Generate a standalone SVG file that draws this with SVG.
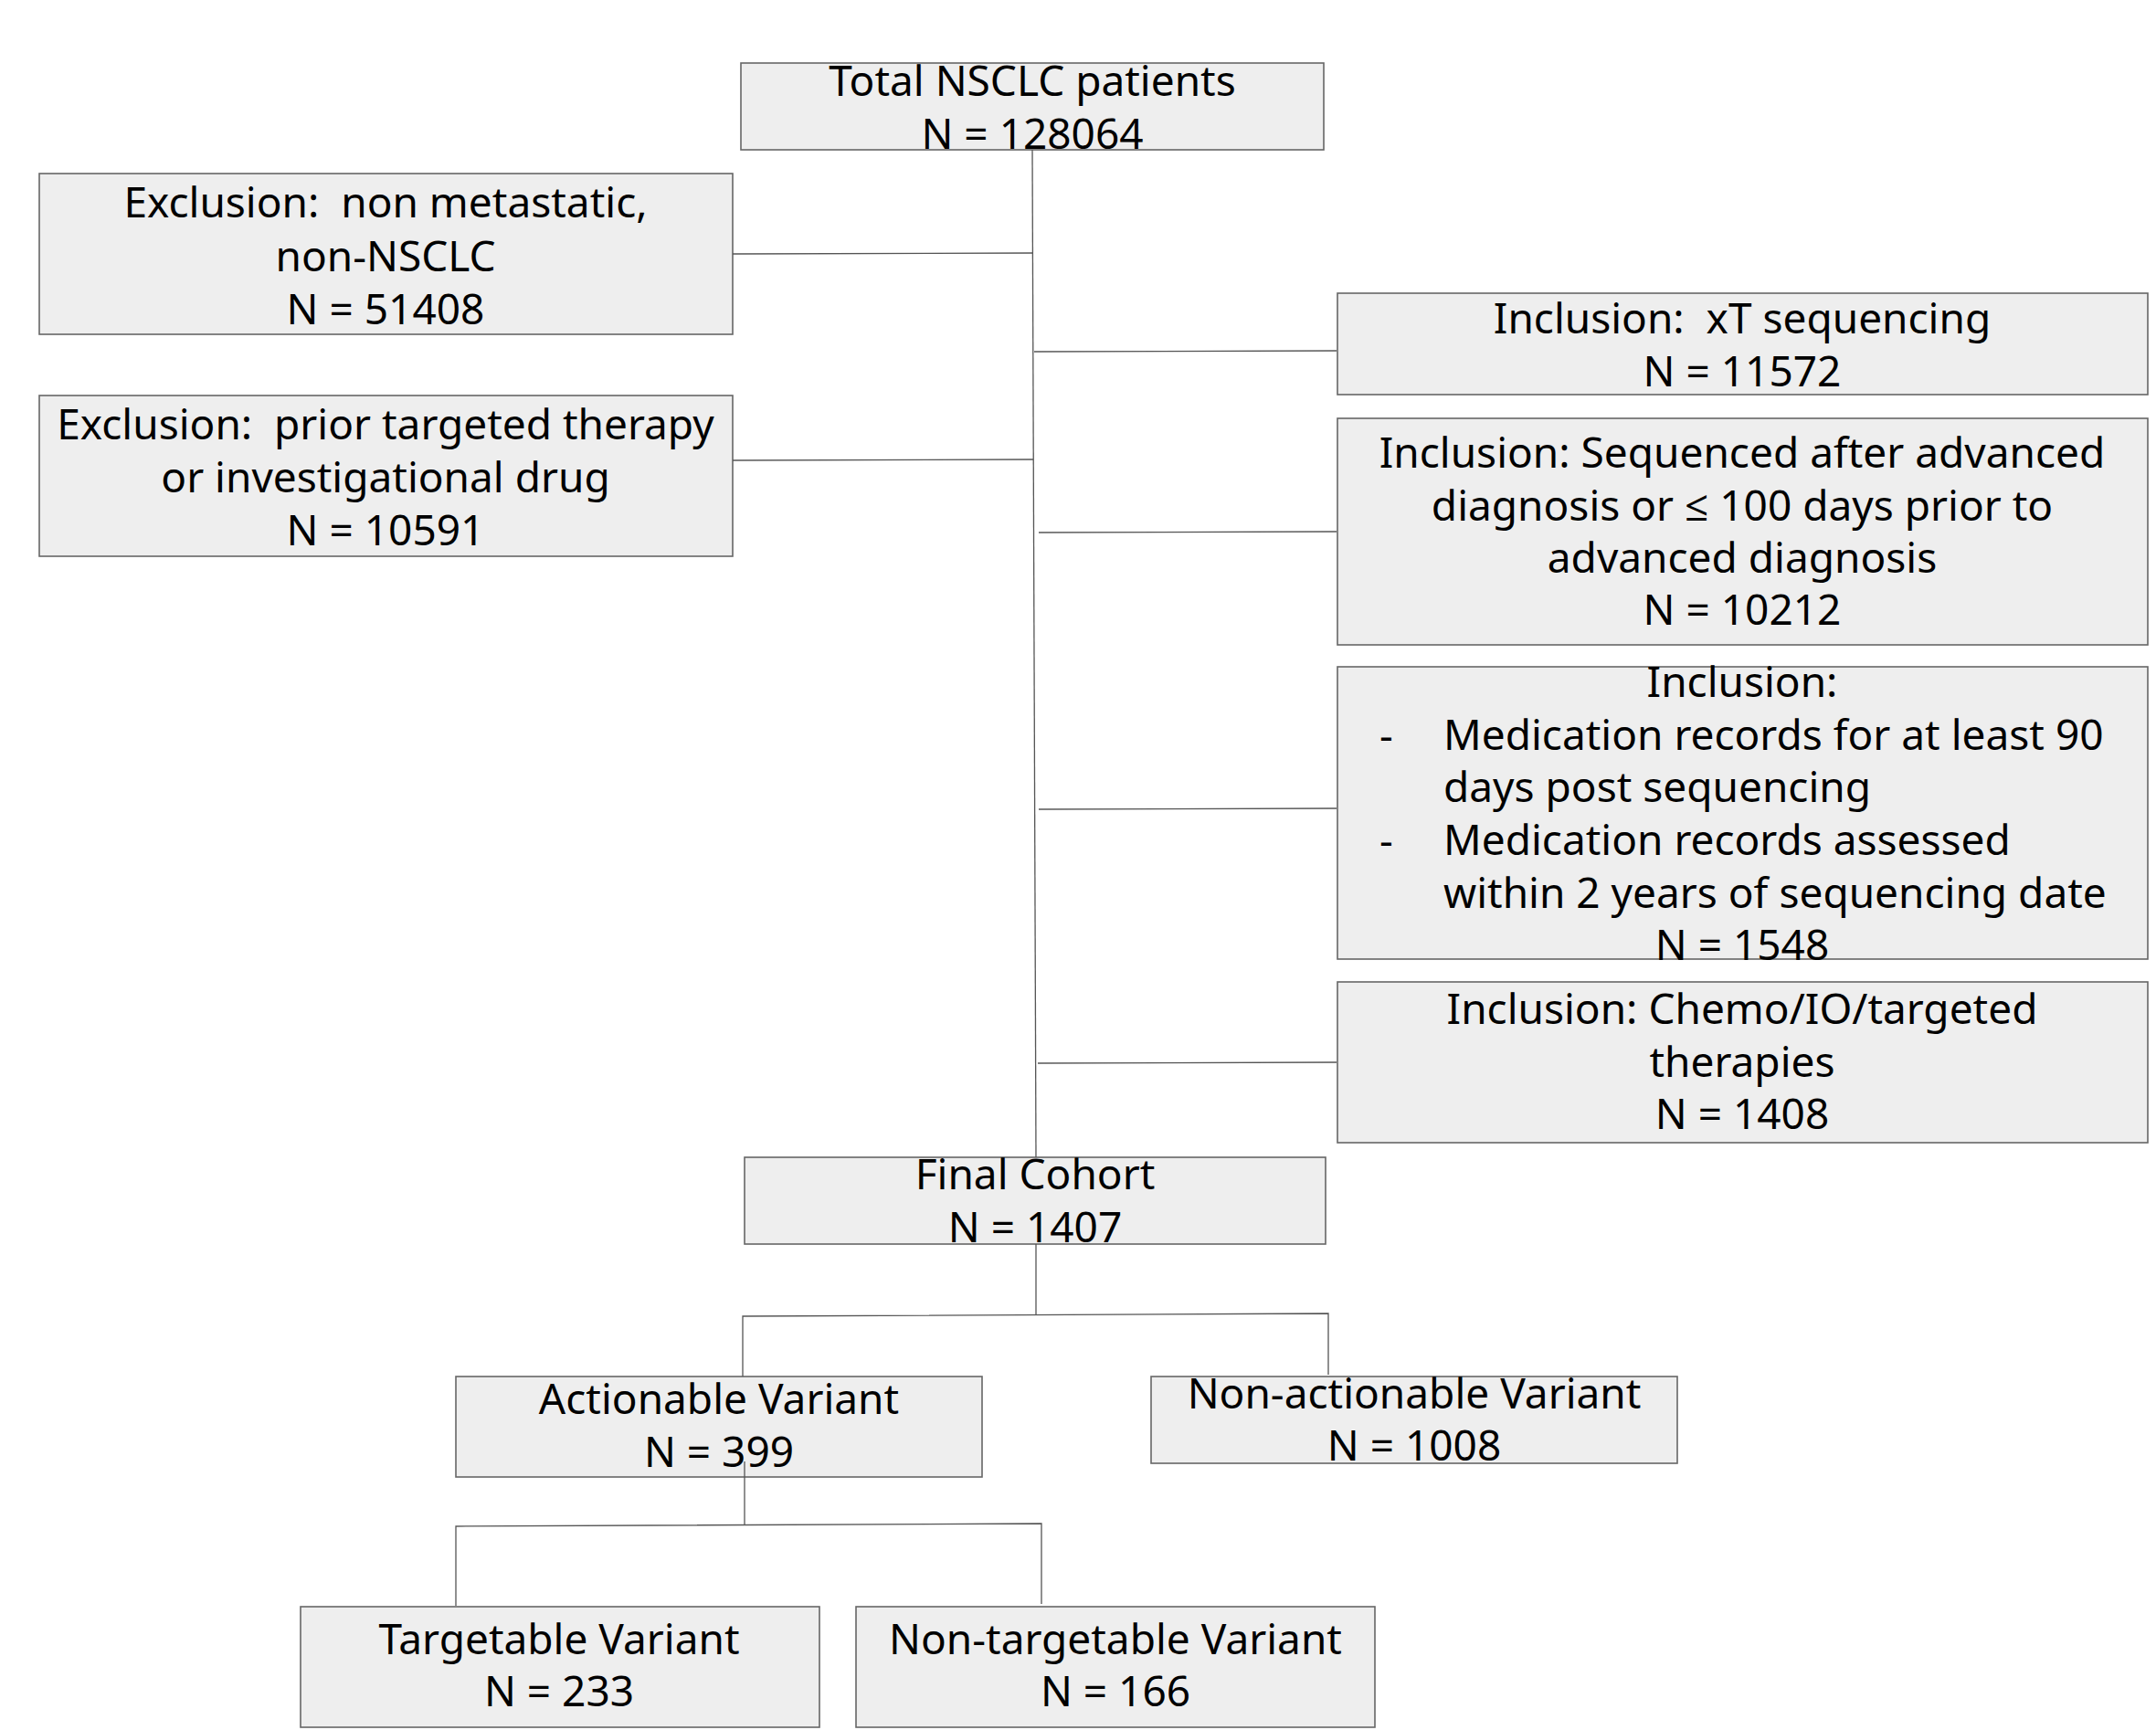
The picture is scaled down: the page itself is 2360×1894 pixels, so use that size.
<svg xmlns="http://www.w3.org/2000/svg" width="2360" height="1894" viewBox="0 0 2360 1894">
<style>
.box{fill:#eeeeee;stroke:#666666;stroke-width:1.6}
.t{font-family:"Noto Sans","Open Sans","Liberation Sans",sans-serif;font-size:46px;fill:#000000;text-anchor:middle;white-space:pre}
.l{text-anchor:start}
.c{fill:none;stroke:#555555;stroke-width:1.3}
</style>
<rect width="2360" height="1894" fill="#ffffff"/>
<g id="total">
<rect class="box" x="811" y="69" width="638" height="95"/>
<text class="t" x="1130" y="105">Total NSCLC patients</text>
<text class="t" x="1130" y="163">N = 128064</text>
</g>
<g id="excl1">
<rect class="box" x="43" y="190" width="759" height="176"/>
<text class="t" x="422" y="238" xml:space="preserve">Exclusion:  non metastatic,</text>
<text class="t" x="422" y="297">non-NSCLC</text>
<text class="t" x="422" y="355">N = 51408</text>
</g>
<g id="excl2">
<rect class="box" x="43" y="433" width="759" height="176"/>
<text class="t" x="422" y="481" xml:space="preserve">Exclusion:  prior targeted therapy</text>
<text class="t" x="422" y="539">or investigational drug</text>
<text class="t" x="422" y="597">N = 10591</text>
</g>
<g id="incl1">
<rect class="box" x="1464" y="321" width="887" height="111"/>
<text class="t" x="1907" y="365" xml:space="preserve">Inclusion:  xT sequencing</text>
<text class="t" x="1907" y="423">N = 11572</text>
</g>
<g id="incl2">
<rect class="box" x="1464" y="458" width="887" height="248"/>
<text class="t" x="1907" y="512">Inclusion: Sequenced after advanced</text>
<text class="t" x="1907" y="570">diagnosis or ≤ 100 days prior to</text>
<text class="t" x="1907" y="627">advanced diagnosis</text>
<text class="t" x="1907" y="684">N = 10212</text>
</g>
<g id="incl3">
<rect class="box" x="1464" y="730" width="887" height="320"/>
<text class="t" x="1907" y="763">Inclusion:</text>
<text class="t l" x="1510" y="821">-</text>
<text class="t l" x="1580" y="821">Medication records for at least 90</text>
<text class="t l" x="1580" y="878">days post sequencing</text>
<text class="t l" x="1510" y="936">-</text>
<text class="t l" x="1580" y="936">Medication records assessed</text>
<text class="t l" x="1580" y="994">within 2 years of sequencing date</text>
<text class="t" x="1907" y="1051">N = 1548</text>
</g>
<g id="incl4">
<rect class="box" x="1464" y="1075" width="887" height="176"/>
<text class="t" x="1907" y="1121">Inclusion: Chemo/IO/targeted</text>
<text class="t" x="1907" y="1179">therapies</text>
<text class="t" x="1907" y="1236">N = 1408</text>
</g>
<g id="final">
<rect class="box" x="815" y="1267" width="636" height="95"/>
<text class="t" x="1133" y="1302">Final Cohort</text>
<text class="t" x="1133" y="1360">N = 1407</text>
</g>
<g id="actionable">
<rect class="box" x="499" y="1507" width="576" height="110"/>
<text class="t" x="787" y="1548">Actionable Variant</text>
<text class="t" x="787" y="1606">N = 399</text>
</g>
<g id="nonactionable">
<rect class="box" x="1260" y="1507" width="576" height="95"/>
<text class="t" x="1548" y="1542">Non-actionable Variant</text>
<text class="t" x="1548" y="1599">N = 1008</text>
</g>
<g id="targetable">
<rect class="box" x="329" y="1759" width="568" height="132"/>
<text class="t" x="612" y="1811">Targetable Variant</text>
<text class="t" x="612" y="1868">N = 233</text>
</g>
<g id="nontargetable">
<rect class="box" x="937" y="1759" width="568" height="132"/>
<text class="t" x="1221" y="1811">Non-targetable Variant</text>
<text class="t" x="1221" y="1868">N = 166</text>
</g>
<g id="connectors">
<path class="c" d="M1130,164 L1134,1267"/>
<path class="c" d="M802,278 L1131,277"/>
<path class="c" d="M802,504 L1131,503"/>
<path class="c" d="M1132,385 L1463,384"/>
<path class="c" d="M1137,583 L1463,582"/>
<path class="c" d="M1137,886 L1463,885"/>
<path class="c" d="M1136,1164 L1463,1163"/>
<path class="c" d="M1134,1362 L1134,1439"/>
<path class="c" d="M813,1507 L813,1441 L1454,1438 L1454,1505"/>
<path class="c" d="M815,1600 L815,1669"/>
<path class="c" d="M499,1758 L499,1671 L1140,1668 L1140,1756"/>
</g>
</svg>
